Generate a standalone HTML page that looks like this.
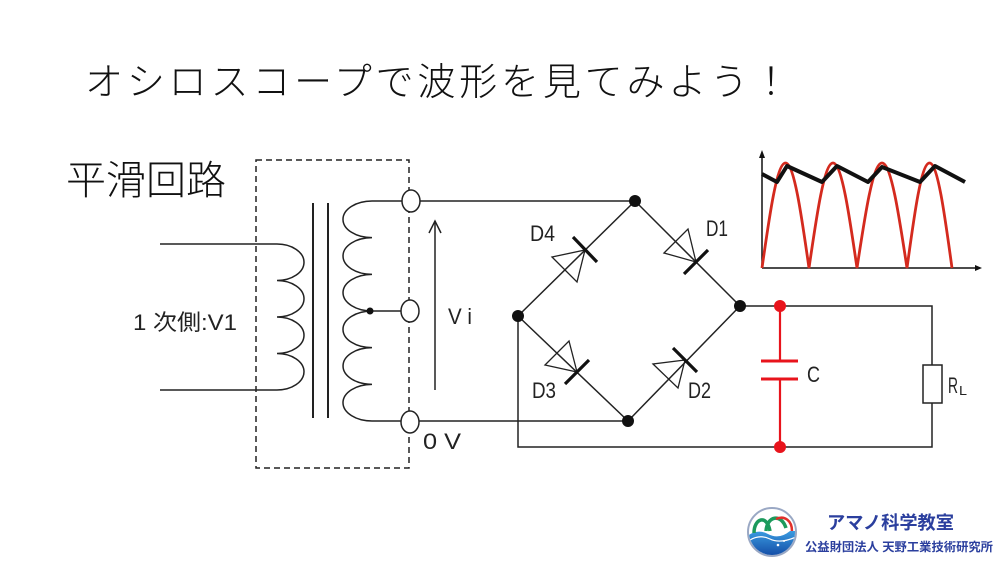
<!DOCTYPE html>
<html>
<head>
<meta charset="utf-8">
<style>
  html,body{margin:0;padding:0;background:#fff;}
  svg{display:block;}
</style>
</head>
<body>
<svg width="1000" height="563" viewBox="0 0 1000 563" xmlns="http://www.w3.org/2000/svg">
  <defs>
    <linearGradient id="wg" x1="0" y1="0" x2="0" y2="1">
      <stop offset="0" stop-color="#3a9be0"/>
      <stop offset="1" stop-color="#0d3f9c"/>
    </linearGradient>
    <clipPath id="lc"><circle cx="772" cy="532" r="23"/></clipPath>
  </defs>
  <rect width="1000" height="563" fill="#fff"/>

  <!-- Titles -->
  <text x="85" y="95" font-family="'Liberation Sans','Noto Sans CJK JP',sans-serif" font-size="38" font-weight="300" fill="#111" textLength="705" lengthAdjust="spacing">オシロスコープで波形を見てみよう！</text>
  <text x="66" y="194" font-family="'Liberation Sans','Noto Sans CJK JP',sans-serif" font-size="40" font-weight="300" fill="#111">平滑回路</text>

  <!-- Dashed transformer box -->
  <rect x="256" y="160" width="153" height="308" fill="none" stroke="#222" stroke-width="1.5" stroke-dasharray="6 4"/>

  <g fill="none" stroke="#222" stroke-width="1.5">
    <!-- Primary coil -->
    <path d="M160,244 L277,244 A27 18.25 0 0 1 277,280.5 A27 18.25 0 0 1 277,317 A27 18.25 0 0 1 277,353.5 A27 18.25 0 0 1 277,390 L160,390"/>
    <!-- Core -->
    <line x1="313" y1="203" x2="313" y2="418" stroke-width="2"/>
    <line x1="328" y1="203" x2="328" y2="418" stroke-width="2"/>
    <!-- Secondary coil -->
    <path d="M402,201 L372,201 A29 18.33 0 0 0 372,237.67 A29 18.33 0 0 0 372,274.33 A29 18.33 0 0 0 372,311 A29 18.33 0 0 0 372,347.67 A29 18.33 0 0 0 372,384.33 A29 18.33 0 0 0 372,421 L401,421"/>
    <line x1="370" y1="311" x2="401" y2="311"/>
    <!-- Vi arrow -->
    <line x1="435" y1="221" x2="435" y2="390"/>
    <polyline points="429,233 435,221 441,233"/>

    <!-- Wires to bridge -->
    <line x1="420" y1="201" x2="635" y2="201"/>
    <line x1="419" y1="421" x2="628" y2="421"/>

    <!-- Bridge edges -->
    <line x1="518" y1="316" x2="635" y2="201"/>
    <line x1="635" y1="201" x2="740" y2="306"/>
    <line x1="518" y1="316" x2="628" y2="421"/>
    <line x1="628" y1="421" x2="740" y2="306"/>

    <!-- Output wires -->
    <polyline points="740,306 932,306 932,365"/>
    <rect x="923" y="365" width="19" height="38" fill="#fff"/>
    <polyline points="932,403 932,447 518,447 518,316"/>
  </g>

  <!-- Terminal circles -->
  <g fill="#fff" stroke="#222" stroke-width="1.5">
    <ellipse cx="411" cy="201" rx="9" ry="11"/>
    <ellipse cx="410" cy="311" rx="9" ry="11"/>
    <ellipse cx="410" cy="422" rx="9" ry="11"/>
  </g>
  <circle cx="370" cy="311" r="3.5" fill="#111"/>

  <!-- Diodes -->
  <g fill="none" stroke="#222" stroke-width="1.3">
    <polygon points="664,253 688,229 696,262"/>
    <polygon points="552,257 577,282 585,250"/>
    <polygon points="545,365 569,341 577,372"/>
    <polygon points="653,364 678,388 685,360"/>
  </g>
  <g stroke="#111" stroke-width="3.2" stroke-linecap="butt">
    <line x1="684" y1="274" x2="708" y2="250"/>
    <line x1="573" y1="237" x2="597" y2="262"/>
    <line x1="565" y1="384" x2="589" y2="360"/>
    <line x1="673" y1="348" x2="697" y2="372"/>
  </g>

  <!-- Nodes -->
  <g fill="#111">
    <circle cx="635" cy="201" r="6"/>
    <circle cx="518" cy="316" r="6"/>
    <circle cx="740" cy="306" r="6"/>
    <circle cx="628" cy="421" r="6"/>
  </g>

  <!-- Capacitor (red) -->
  <g stroke="#e8141c" stroke-width="2.2">
    <line x1="780" y1="306" x2="780" y2="361"/>
    <line x1="761" y1="361" x2="798" y2="361" stroke-width="3"/>
    <line x1="761" y1="379" x2="798" y2="379" stroke-width="3"/>
    <line x1="780" y1="379" x2="780" y2="447"/>
  </g>
  <circle cx="780" cy="306" r="6" fill="#e8141c"/>
  <circle cx="780" cy="447" r="6" fill="#e8141c"/>

  <!-- Circuit labels -->
  <g font-family="'Liberation Sans','Noto Sans CJK JP',sans-serif" fill="#222" font-size="22">
    <text x="133" y="330" textLength="104" lengthAdjust="spacingAndGlyphs">1 次側:V1</text>
    <text x="448" y="324" textLength="24" lengthAdjust="spacingAndGlyphs">V i</text>
    <text x="423" y="449" textLength="38" lengthAdjust="spacingAndGlyphs">0  V</text>
    <text x="530" y="241" textLength="25" lengthAdjust="spacingAndGlyphs">D4</text>
    <text x="706" y="236" textLength="22" lengthAdjust="spacingAndGlyphs">D1</text>
    <text x="532" y="398" textLength="24" lengthAdjust="spacingAndGlyphs">D3</text>
    <text x="688" y="398" textLength="23" lengthAdjust="spacingAndGlyphs">D2</text>
    <text x="807" y="382" textLength="13" lengthAdjust="spacingAndGlyphs">C</text>
    <text x="948" y="393" textLength="10" lengthAdjust="spacingAndGlyphs">R</text>
    <text x="959" y="395" font-size="13" textLength="8" lengthAdjust="spacingAndGlyphs">L</text>
  </g>

  <!-- Waveform graph -->
  <g stroke="#111" stroke-width="1.5" fill="none">
    <line x1="762" y1="268" x2="762" y2="156"/>
    <line x1="762" y1="268" x2="977" y2="268"/>
  </g>
  <polygon points="762,150 759,158 765,158" fill="#111"/>
  <polygon points="982,268 975,265 975,271" fill="#111"/>
  <path d="M762,268 C769.66,214.2 776.96,163 785.5,163 C794.04,163 801.34,214.2 809,268 C816.83,214.2 824.28,163 833,163 C841.72,163 849.17,214.2 857,268 C865.15,214.2 872.92,163 882,163 C891.08,163 898.85,214.2 907,268 C914.34,214.2 921.32,163 929.5,163 C937.68,163 944.66,214.2 952,268" fill="none" stroke="#d42a1e" stroke-width="2.8"/>
  <polyline points="762,174 777,182 787,166 822,182 837,166 868,182 882,167 920,182 935,166 965,182" fill="none" stroke="#111" stroke-width="4" stroke-linejoin="round"/>

  <!-- Logo -->
  <circle cx="772" cy="532" r="24" fill="#fff" stroke="#9aa8c4" stroke-width="2"/>
  <g clip-path="url(#lc)">
    <path d="M746,537 Q757,528 768,534 T790,531 L800,531 L800,560 L746,560 Z" fill="url(#wg)"/>
    <path d="M750,540 Q760,534 770,539 T796,537" fill="none" stroke="#fff" stroke-width="1.2"/>
    <circle cx="778" cy="545" r="1.3" fill="#fff"/>
    <circle cx="784" cy="541" r="1" fill="#fff"/>
  </g>
  <path d="M754,533 C754,518 767,514 770,531" fill="none" stroke="#1c9a5c" stroke-width="3.5"/>
  <path d="M766,531 C767,516 781,513 786,528" fill="none" stroke="#1c9a5c" stroke-width="3.5"/>
  <path d="M776,519 C785,515 792,521 792,531" fill="none" stroke="#e0302a" stroke-width="2.5"/>
  <text x="827" y="529" font-family="'Liberation Sans','Noto Sans CJK JP',sans-serif" font-size="18" font-weight="bold" fill="#2b3f9e" textLength="127" lengthAdjust="spacingAndGlyphs">アマノ科学教室</text>
  <text x="805" y="551" font-family="'Liberation Sans','Noto Sans CJK JP',sans-serif" font-size="12" font-weight="bold" fill="#2b3f9e" textLength="188" lengthAdjust="spacingAndGlyphs">公益財団法人 天野工業技術研究所</text>
</svg>
</body>
</html>
